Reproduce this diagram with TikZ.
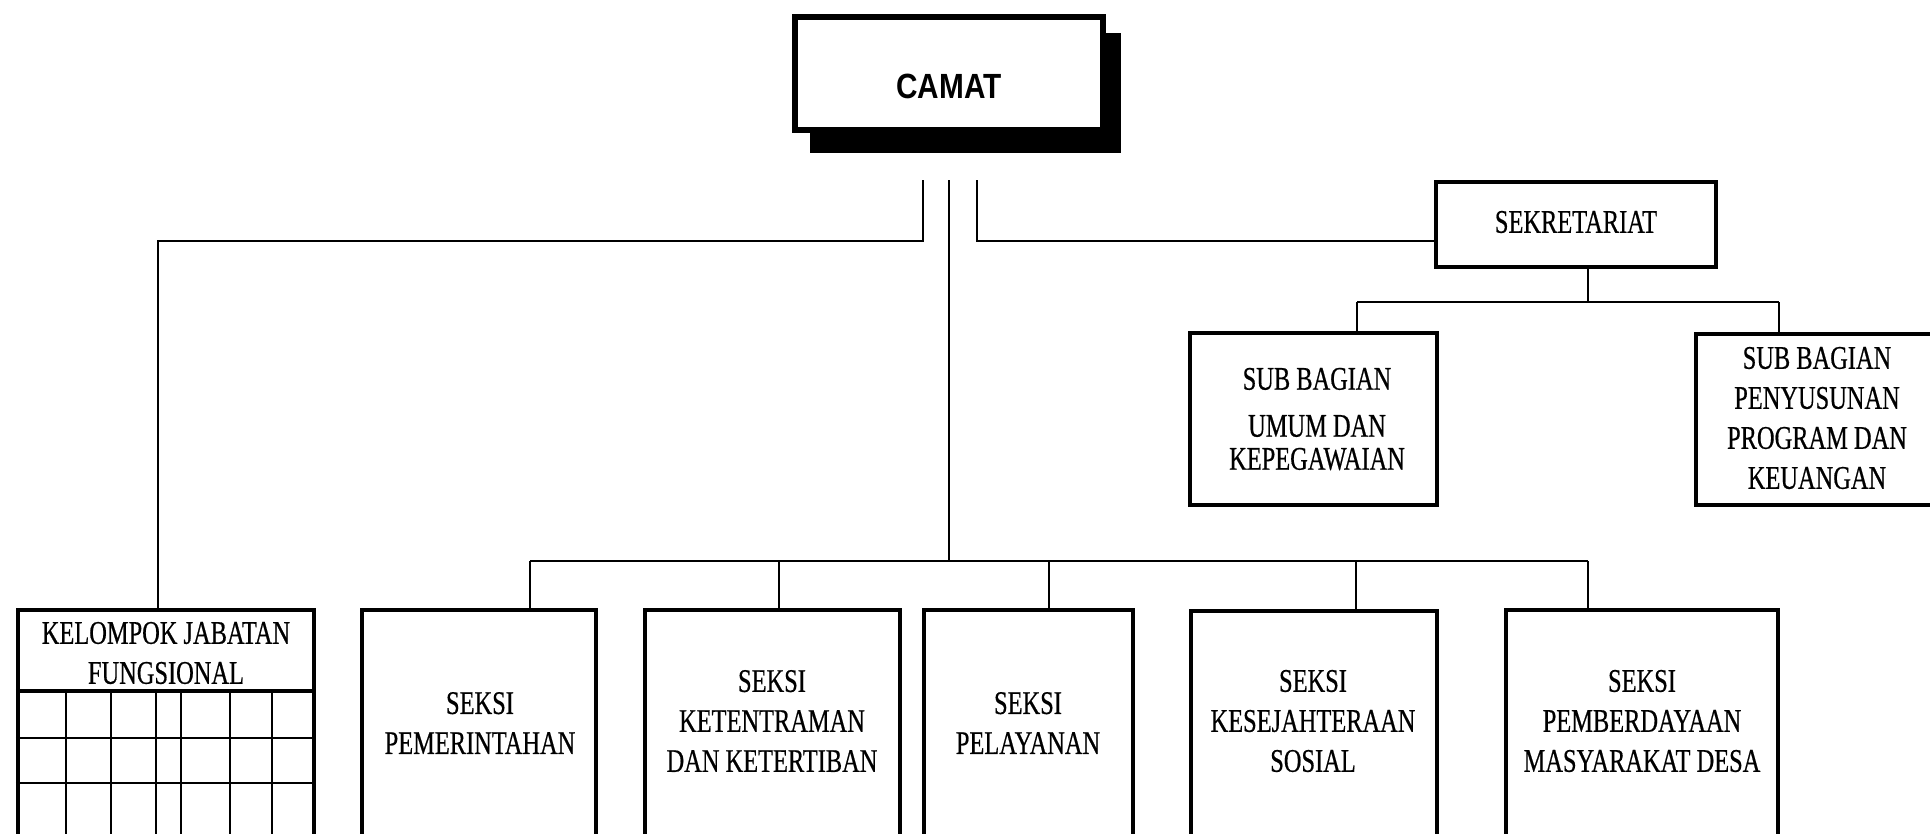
\documentclass[tikz,border=0pt]{standalone}
\usepackage{fontspec}
\usetikzlibrary{fit}
\newfontfamily\serfont[FakeStretch=0.74,FakeBold=0.5]{Liberation Serif}
\newfontfamily\camatfont[FakeStretch=0.85]{Liberation Sans Bold}
\tikzset{
  box/.style={draw=black, line width=1.8pt, inner sep=0pt, fill=white},
  camatbox/.style={draw=black, line width=2.2pt, inner sep=0pt, fill=white},
  shadowbox/.style={fill=black, draw=none, inner sep=0pt},
  conn/.style={draw=black, line width=1pt},
  gridline/.style={draw=black, line width=1.1pt},
  txt/.style={align=center, inner sep=0pt, font=\serfont\fontsize{13.2}{16}\selectfont},
  camattxt/.style={inner sep=0pt, font=\camatfont\fontsize{14}{16}\selectfont}
}
\begin{document}
\begin{tikzpicture}[x=0.4pt, y=-0.4pt]
\useasboundingbox (0,0) rectangle (1930,833);
\fill[white] (0,0) rectangle (1930,833);

% CAMAT
\node[shadowbox, fit={(810,33) (1121,153)}] (camatshadow) {};
\node[camatbox, fit={(795,17) (1103,130)}] (camat) {};
\node[camattxt] (camatT) at (949,86) {CAMAT};

% Sekretariat and sub-bagian
\node[box, fit={(1436,182) (1716,267)}] (sek) {};
\node[txt] (sekT) at (1576,222) {SEKRETARIAT};
\node[box, fit={(1190,333) (1437,505)}] (umum) {};
\node[txt] (umumT) at (1317,419) {SUB BAGIAN\\[2.8pt]UMUM DAN\\[-2.8pt]KEPEGAWAIAN};
\node[box, fit={(1696,334) (1950,505)}] (peny) {};
\node[txt] (penyT) at (1817,418) {SUB BAGIAN\\PENYUSUNAN\\PROGRAM DAN\\KEUANGAN};

% Bottom row
\node[box, fit={(18,610) (314,880)}] (kel) {};
\node[txt] (kelT) at (166,653) {KELOMPOK JABATAN\\FUNGSIONAL};
\node[box, fit={(362,610) (596,880)}] (pem) {};
\node[txt] (pemT) at (480,723) {SEKSI\\PEMERINTAHAN};
\node[box, fit={(645,610) (900,880)}] (ket) {};
\node[txt] (ketT) at (772,721) {SEKSI\\KETENTRAMAN\\DAN KETERTIBAN};
\node[box, fit={(924,610) (1133,880)}] (pel) {};
\node[txt] (pelT) at (1028,723) {SEKSI\\PELAYANAN};
\node[box, fit={(1191,611) (1437,880)}] (kes) {};
\node[txt] (kesT) at (1313,721) {SEKSI\\KESEJAHTERAAN\\SOSIAL};
\node[box, fit={(1506,610) (1778,880)}] (pmb) {};
\node[txt] (pmbT) at (1642,721) {SEKSI\\PEMBERDAYAAN\\MASYARAKAT DESA};

% grid inside kelompok jabatan fungsional
\draw[line width=1.6pt] (kel.west |- 0,691) -- (kel.east |- 0,691);
\foreach \yy in {738,783} \draw[gridline] (kel.west |- 0,\yy) -- (kel.east |- 0,\yy);
\foreach \xx in {66,111,156,181,230,272} \draw[gridline] (\xx,691) -- (\xx,880);

% connectors from CAMAT
\coordinate (c1) at (923,180);
\coordinate (c2) at (949,180);
\coordinate (c3) at (977,180);
\coordinate (l1) at (923,241);
\coordinate (l2) at (158,241);
\draw[conn] (c1) -- (l1) -- (l2) -- (l2 |- kel.north);
\coordinate (r1) at (977,241);
\draw[conn] (c3) -- (r1) -- (r1 -| sek.west);

% main bus
\coordinate (bm) at (949,561);
\coordinate (b1) at (530,561);
\coordinate (b2) at (779,561);
\coordinate (b3) at (1049,561);
\coordinate (b4) at (1356,561);
\coordinate (b5) at (1588,561);
\draw[conn] (c2) -- (bm);
\draw[conn] (b1) -- (b5);
\draw[conn] (b1) -- (b1 |- pem.north);
\draw[conn] (b2) -- (b2 |- ket.north);
\draw[conn] (b3) -- (b3 |- pel.north);
\draw[conn] (b4) -- (b4 |- kes.north);
\draw[conn] (b5) -- (b5 |- pmb.north);

% sekretariat bus
\coordinate (s0) at (1588,302);
\coordinate (s1) at (1357,302);
\coordinate (s2) at (1779,302);
\draw[conn] (s0 |- sek.south) -- (s0);
\draw[conn] (s1) -- (s2);
\draw[conn] (s1) -- (s1 |- umum.north);
\draw[conn] (s2) -- (s2 |- peny.north);
\end{tikzpicture}
\end{document}
